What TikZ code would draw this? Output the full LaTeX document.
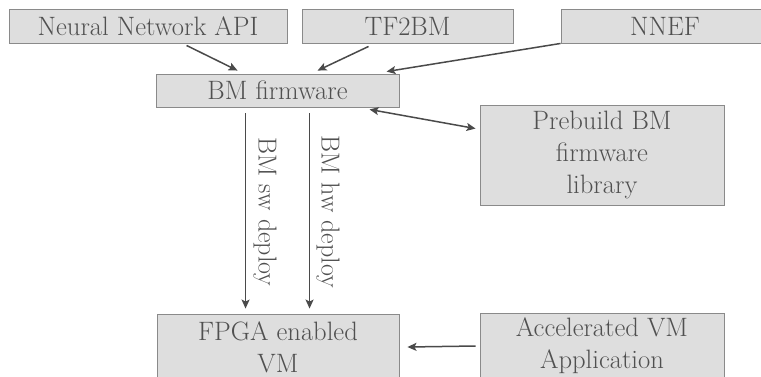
\documentclass[tikz,border=0pt]{standalone}
\usetikzlibrary{arrows.meta,calc}
\definecolor{boxfill}{HTML}{DEDEDE}
\definecolor{boxline}{HTML}{8A8A8A}
\definecolor{boxtext}{HTML}{505050}
\definecolor{arrowc}{HTML}{4A4A4A}
\begin{document}
\begin{tikzpicture}[x=1pt,y=-1pt,
  box/.style={draw=boxline, fill=boxfill, line width=0.9pt, text=boxtext,
    inner sep=0pt, align=center, font=\fontsize{26.6}{32}\selectfont},
  tip/.tip={Stealth[length=9pt,width=8pt,inset=2pt]},
  conn/.style={draw=arrowc, line width=1.5pt, -tip},
  lbl/.style={text=boxtext, font=\fontsize{26}{32}\selectfont, rotate=-90, inner sep=0pt}]
\useasboundingbox (0,0) rectangle (761,376);
\clip (0,0) rectangle (761,376);

% top row of sources
\node[box, minimum width=278pt, minimum height=34pt] (nn) at (148,26) {Neural Network API};
\node[box, minimum width=211pt, minimum height=34pt] (tf) at (407.5,26) {TF2BM};
\node[box, minimum width=208pt, minimum height=34pt] (nnef) at (665,26) {NNEF};

% firmware and library
\node[box, minimum width=243pt, minimum height=33pt] (bm) at (277.5,90.5) {BM firmware};
\node[box, minimum width=244pt, minimum height=100pt] (lib) at (602,155) {Prebuild BM\\firmware\\library};

% bottom row
\node[box, minimum width=242pt, minimum height=66pt] (vm) at (278,347) {FPGA enabled\\VM};
\node[box, minimum width=244pt, minimum height=66pt] (app) at (602,346) {Accelerated VM\\Application};

% connectors into the firmware
\draw[conn] ([xshift=178pt,yshift=-2pt]nn.south west) -- ([xshift=82pt,yshift=3pt]bm.north west);
\draw[conn] ([xshift=67pt,yshift=-3pt]tf.south west) -- ([xshift=162pt,yshift=3pt]bm.north west);
\draw[conn] (nnef.south west) -- ([xshift=231pt,yshift=2pt]bm.north west);

% firmware <-> library
\draw[conn, tip-tip]
  ([xshift=214pt,yshift=-2pt]bm.south west) -- ([xshift=-4pt,yshift=-24pt]lib.north west);

% deploy paths
\draw[conn] ([xshift=90pt,yshift=-6pt]bm.south west) -- ([xshift=89pt,yshift=5pt]vm.north west);
\draw[conn] ([xshift=154pt,yshift=-6pt]bm.south west) -- ([xshift=153pt,yshift=5pt]vm.north west);
\node[lbl] (sw) at (265,212) {BM sw deploy};
\node[lbl] (hw) at (328,212) {BM hw deploy};

% application into the VM
\draw[conn] ([xshift=-4pt]app.west) -- ([xshift=8pt]vm.east);
\end{tikzpicture}
\end{document}
